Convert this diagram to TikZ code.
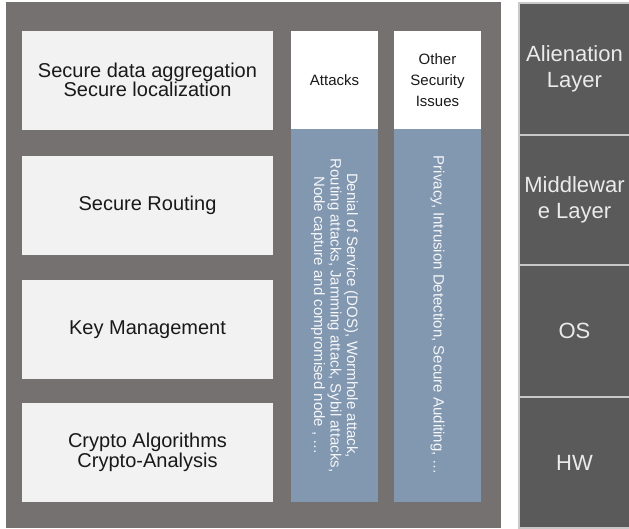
\documentclass[tikz,border=0pt]{standalone}
\usepackage{fontspec}
\setmainfont{Liberation Sans}
\definecolor{panelgray}{HTML}{757170}
\definecolor{boxgray}{HTML}{F2F2F2}
\definecolor{steelblue}{HTML}{8297B0}
\definecolor{stackgray}{HTML}{5A5A5A}
\definecolor{stackline}{HTML}{C8C8C8}
\tikzset{
  secbox/.style={fill=boxgray, inner sep=0pt, minimum width=251pt, minimum height=99pt, align=center, text=black!90, font=\fontsize{20}{18.5}\selectfont},
  headbox/.style={fill=white, inner sep=0pt, minimum width=87pt, minimum height=98pt, align=center, text=black!90, font=\fontsize{15}{21}\selectfont},
  listbox/.style={fill=steelblue, inner sep=0pt, minimum width=87pt, minimum height=373pt},
  listtext/.style={rotate=-90, align=center, text=white!92!steelblue, font=\fontsize{15}{16.5}\selectfont},
  layerbox/.style={fill=stackgray, draw=stackline, line width=1.2pt, inner sep=0pt, minimum width=111pt, align=center, text=white!92!black, font=\fontsize{22}{25.5}\selectfont}
}
\begin{document}
\begin{tikzpicture}[x=1pt, y=-1pt]
			%%%%% START %%%%%
			\useasboundingbox (0, 0) rectangle (629, 528);
			
			% grey panel with the security topics
			\fill[panelgray] (6, 2) rectangle (501, 528);
			
			\node[secbox] (aggregation) at (147.5, 80) {Secure data aggregation\\Secure localization};
			\node[secbox] (routing) at (147.5, 205) {Secure Routing};
			\node[secbox] (keymgmt) at (147.5, 329.5) {Key Management};
			\node[secbox] (crypto) at (147.5, 452.5) {Crypto Algorithms\\Crypto-Analysis};
			
			\node[headbox] (attacks) at (334.5, 80) {Attacks};
			\node[listbox] (attacklist) at (334.5, 315.5) {};
			\node[listtext] (attacktext) at (attacklist.center) {Denial of Service (DOS), Wormhole attack,\\Routing attacks, Jamming attack, Sybil attacks,\\Node capture and compromised node , \dots};
			
			\node[headbox] (other) at (437.5, 80) {Other\\Security\\Issues};
			\node[listbox] (otherlist) at (437.5, 315.5) {};
			\node[listtext] (othertext) at (otherlist.center) {Privacy, Intrusion Detection, Secure Auditing, \dots};
			
			% layer stack
			\node[layerbox, minimum height=132pt] (alienation) at (574.5, 69) {Alienation\\Layer};
			\node[layerbox, minimum height=130pt] (middleware) at (574.5, 200) {Middlewar\\e Layer};
			\node[layerbox, minimum height=132pt] (os) at (574.5, 331) {OS};
			\node[layerbox, minimum height=131pt] (hw) at (574.5, 462.5) {HW};
			
			%%%%% END %%%%%
		\end{tikzpicture}
\end{document}
